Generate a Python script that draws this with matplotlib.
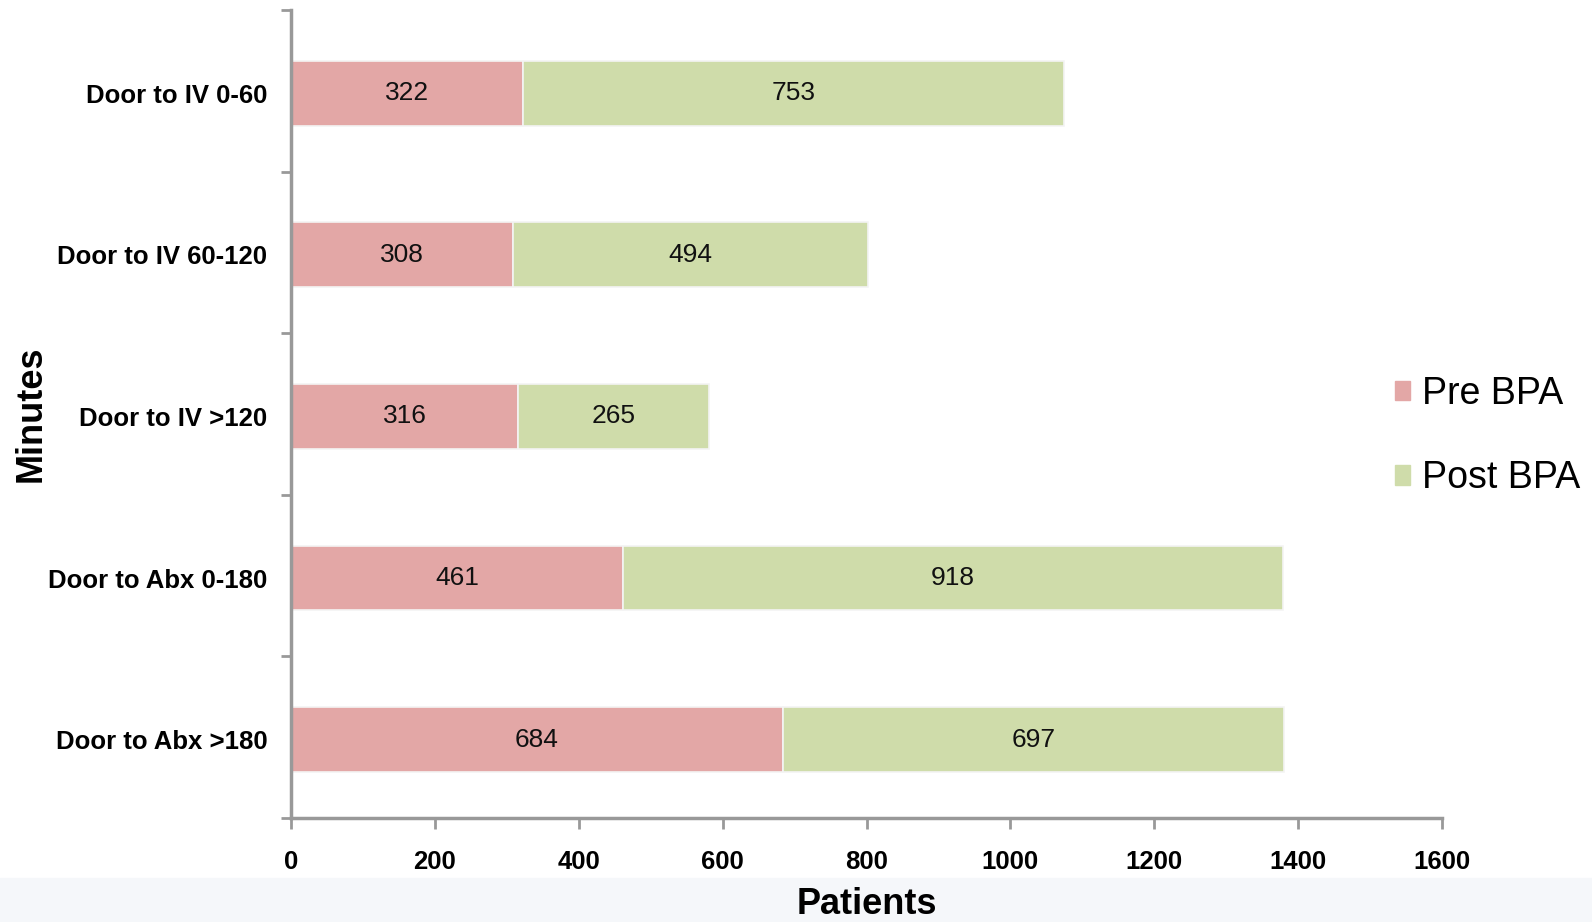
import matplotlib.pyplot as plt
from matplotlib.patches import Patch

plt.rcParams['font.family'] = ['Liberation Sans', 'DejaVu Sans']

categories = ["Door to IV 0-60", "Door to IV 60-120", "Door to IV >120",
              "Door to Abx 0-180", "Door to Abx >180"]
pre_bpa = [322, 308, 316, 461, 684]
post_bpa = [753, 494, 265, 918, 697]
x_ticks = [0, 200, 400, 600, 800, 1000, 1200, 1400, 1600]

pre_color = "#E3A7A6"
post_color = "#CFDCAA"

fig = plt.figure(figsize=(15.92, 9.22), dpi=100)
fig.patch.set_facecolor("white")
# faint band at the bottom of the slide
band = plt.Rectangle((0, 0), 1, 0.048, transform=fig.transFigure,
                     color="#F5F7FA", zorder=-5)
fig.patches.append(band)

ax = fig.add_axes([0.1828, 0.1128, 0.7230, 0.8764])
ax.set_facecolor("none")

y = [i + 0.015 for i in range(len(categories))]
h = 0.40
ax.barh(y, pre_bpa, height=h, color=pre_color, edgecolor="#F4F4F4", linewidth=1.2)
ax.barh(y, post_bpa, left=pre_bpa, height=h, color=post_color, edgecolor="#F4F4F4", linewidth=1.2)

for i, yy in enumerate(y):
    ax.text(pre_bpa[i] / 2, yy, str(pre_bpa[i]), ha="center", va="center",
            fontsize=19, color="#111111")
    ax.text(pre_bpa[i] + post_bpa[i] / 2, yy, str(post_bpa[i]), ha="center", va="center",
            fontsize=19, color="#111111")

ax.set_xlim(0, 1600)
ax.set_ylim(len(categories) - 0.5, -0.5)
ax.set_xticks(x_ticks)
ax.set_xticklabels([str(t) for t in x_ticks], fontsize=18.5, fontweight="bold")

# category labels between ticks, tick marks at slot boundaries
ax.set_yticks([i - 0.5 for i in range(len(categories) + 1)])
ax.set_yticklabels([])
ax.set_yticks(y, minor=True)
ax.set_yticklabels(categories, minor=True, fontsize=18.5, fontweight="bold")
ax.tick_params(axis="y", which="minor", length=0, pad=17)
ax.tick_params(axis="y", which="major", length=7, width=2, color="#999999", direction="out")
ax.tick_params(axis="x", length=8, width=2, color="#999999", direction="out", pad=15)

for s in ["top", "right"]:
    ax.spines[s].set_visible(False)
for s in ["left", "bottom"]:
    ax.spines[s].set_color("#999999")
    ax.spines[s].set_linewidth(2.5)

ax.set_xlabel("Patients", fontsize=26, fontweight="bold")
ax.xaxis.set_label_coords(0.5, -0.085)
ax.set_ylabel("Minutes", fontsize=26, fontweight="bold")
ax.yaxis.set_label_coords(-0.211, 0.5)

handles = [Patch(color=pre_color), Patch(color=post_color)]
fig.legend(handles, ["Pre BPA", "Post BPA"], loc="center left",
           bbox_to_anchor=(0.876, 0.527), frameon=False, fontsize=27,
           handlelength=0.42, handleheight=0.42, handletextpad=0.3,
           labelspacing=1.3, borderpad=0, borderaxespad=0)

fig.savefig("out.png", dpi=100)
